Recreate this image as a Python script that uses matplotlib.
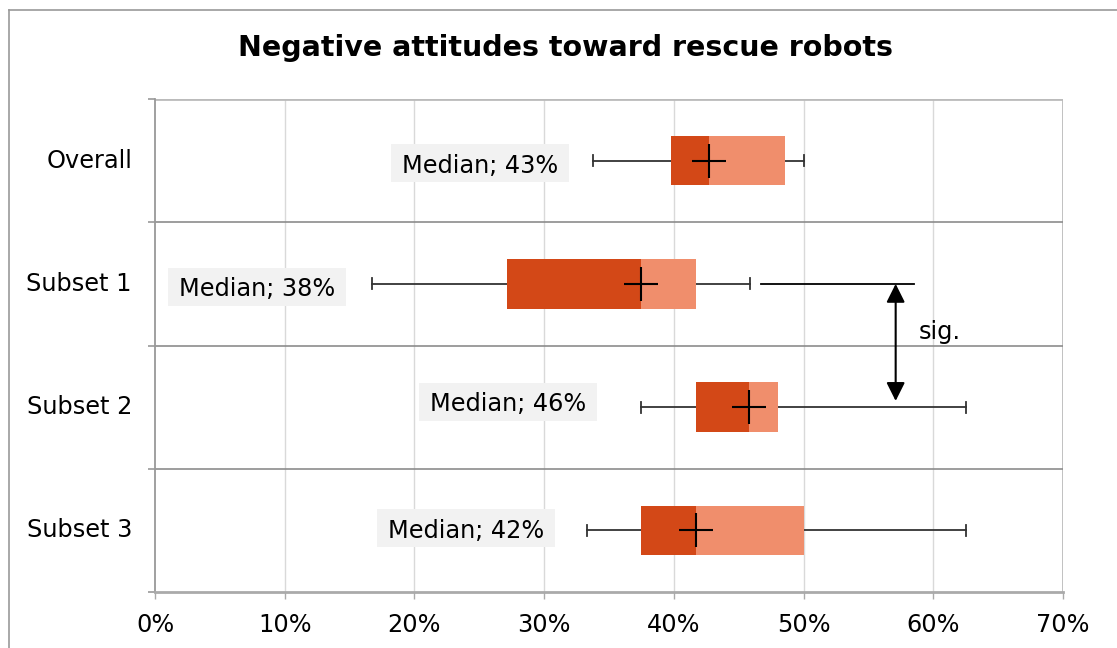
import matplotlib
matplotlib.use('Agg')
import matplotlib.pyplot as plt
from matplotlib.patches import Rectangle
from matplotlib.lines import Line2D

# ---- data ----
categories = ['Overall', 'Subset 1', 'Subset 2', 'Subset 3']
whisker_low = [33.8, 16.7, 37.5, 33.3]
q1 = [39.8, 27.1, 41.7, 37.5]
median = [42.7, 37.5, 45.8, 41.7]
q3 = [48.6, 41.7, 48.0, 50.0]
whisker_high = [50.0, 45.9, 62.5, 62.5]
mean = [42.7, 37.5, 45.8, 41.7]
x_ticks = [0, 10, 20, 30, 40, 50, 60, 70]
x_tick_labels = ['0%', '10%', '20%', '30%', '40%', '50%', '60%', '70%']
title = 'Negative attitudes toward rescue robots'
sig_pair = ('Subset 1', 'Subset 2')
sig_x = 57.1
sig_bracket = [46.7, 58.5]
sig_text = 'sig.'

# ---- layout (not data) ----
label_x = [25.08, 7.86, 27.24, 24.0]
label_dy = [-0.02, -0.024, 0.045, 0.016]
FS = 17.3
DARK = '#D34817'
LIGHT = '#F08E6C'

W, H = 1117, 648
fig = plt.figure(figsize=(W / 100, H / 100), dpi=100)
ax = fig.add_axes([155 / W, 1 - 592 / H, 908 / W, 493 / H])
n = len(categories)
ypos = [n - 0.5 - i for i in range(n)]
ax.set_xlim(0, 70)
ax.set_ylim(0, n)

# grid
for xt in x_ticks[1:-1]:
    ax.axvline(xt, color='#d9d9d9', lw=1.0, zorder=0)
ax.axvline(70, color='#bbbbbb', lw=2.0, zorder=1)
for yb in range(1, n):
    ax.axhline(yb, color='#8c8c8c', lw=1.2, zorder=1)
ax.axhline(n, color='#bbbbbb', lw=2.0, zorder=1)

for s in ['top', 'right']:
    ax.spines[s].set_visible(False)
ax.spines['left'].set_color('#999999')
ax.spines['left'].set_linewidth(1.3)
ax.spines['bottom'].set_color('#aaaaaa')
ax.spines['bottom'].set_linewidth(2.0)

ax.set_xticks(x_ticks)
ax.set_xticklabels(x_tick_labels, fontsize=FS)
ax.tick_params(axis='x', length=5, width=1, color='#aaaaaa', pad=10)
ax.set_yticks(list(range(0, n + 1)))
ax.set_yticklabels([])
ax.tick_params(axis='y', length=5, width=1.2, color='#999999')

bh = 0.4
for i, c in enumerate(categories):
    y = ypos[i]
    ax.plot([whisker_low[i], whisker_high[i]], [y, y], color='#333333', lw=1.3, zorder=2)
    for wx in (whisker_low[i], whisker_high[i]):
        ax.plot([wx, wx], [y - 0.045, y + 0.045], color='#333333', lw=1.3, zorder=2)
    ax.add_patch(Rectangle((q1[i], y - bh / 2), median[i] - q1[i], bh,
                           facecolor=DARK, edgecolor='none', zorder=3))
    ax.add_patch(Rectangle((median[i], y - bh / 2), q3[i] - median[i], bh,
                           facecolor=LIGHT, edgecolor='none', zorder=3))
    ax.plot([mean[i]], [y], marker='+', markersize=25, markeredgewidth=1.5,
            color='black', zorder=4)
    # category label (right-aligned)
    ax.text(-23 / 908, y, c, transform=ax.get_yaxis_transform(), ha='right',
            va='center', fontsize=FS)
    # median label
    ly = y + label_dy[i]
    ax.add_patch(Rectangle((label_x[i] - 178 / 12.97 / 2, ly - 38 / 123.2 / 2),
                           178 / 12.97, 38 / 123.2, facecolor='#f2f2f2',
                           edgecolor='none', zorder=3))
    ax.text(label_x[i], ly, 'Median; %d%%' % int(median[i] + 0.5), ha='center',
            va='center_baseline', fontsize=FS, zorder=4)

# significance marker
y1 = ypos[categories.index(sig_pair[0])]
y2 = ypos[categories.index(sig_pair[1])]
ax.plot(sig_bracket, [y1, y1], color='black', lw=1.3, zorder=2)
ax.annotate('', xy=(sig_x, y1), xytext=(sig_x, y2 + 0.05),
            arrowprops=dict(arrowstyle='<|-|>', color='black', lw=1.5,
                            mutation_scale=28, shrinkA=0, shrinkB=0), zorder=5)
ax.text(58.9, (y1 + y2) / 2 + 0.11, sig_text, ha='left', va='center', fontsize=FS)

fig.text(565 / W, 1 - 48 / H, title, ha='center', va='center',
         fontsize=20.5, fontweight='bold')

# outer frame
fig.add_artist(Line2D([9.5 / W, 1.0], [1 - 10 / H, 1 - 10 / H], color='#999999', lw=1.2))
fig.add_artist(Line2D([9.5 / W, 9.5 / W], [1 - 10 / H, 0.0], color='#999999', lw=1.2))

fig.savefig('out.png', dpi=100)
